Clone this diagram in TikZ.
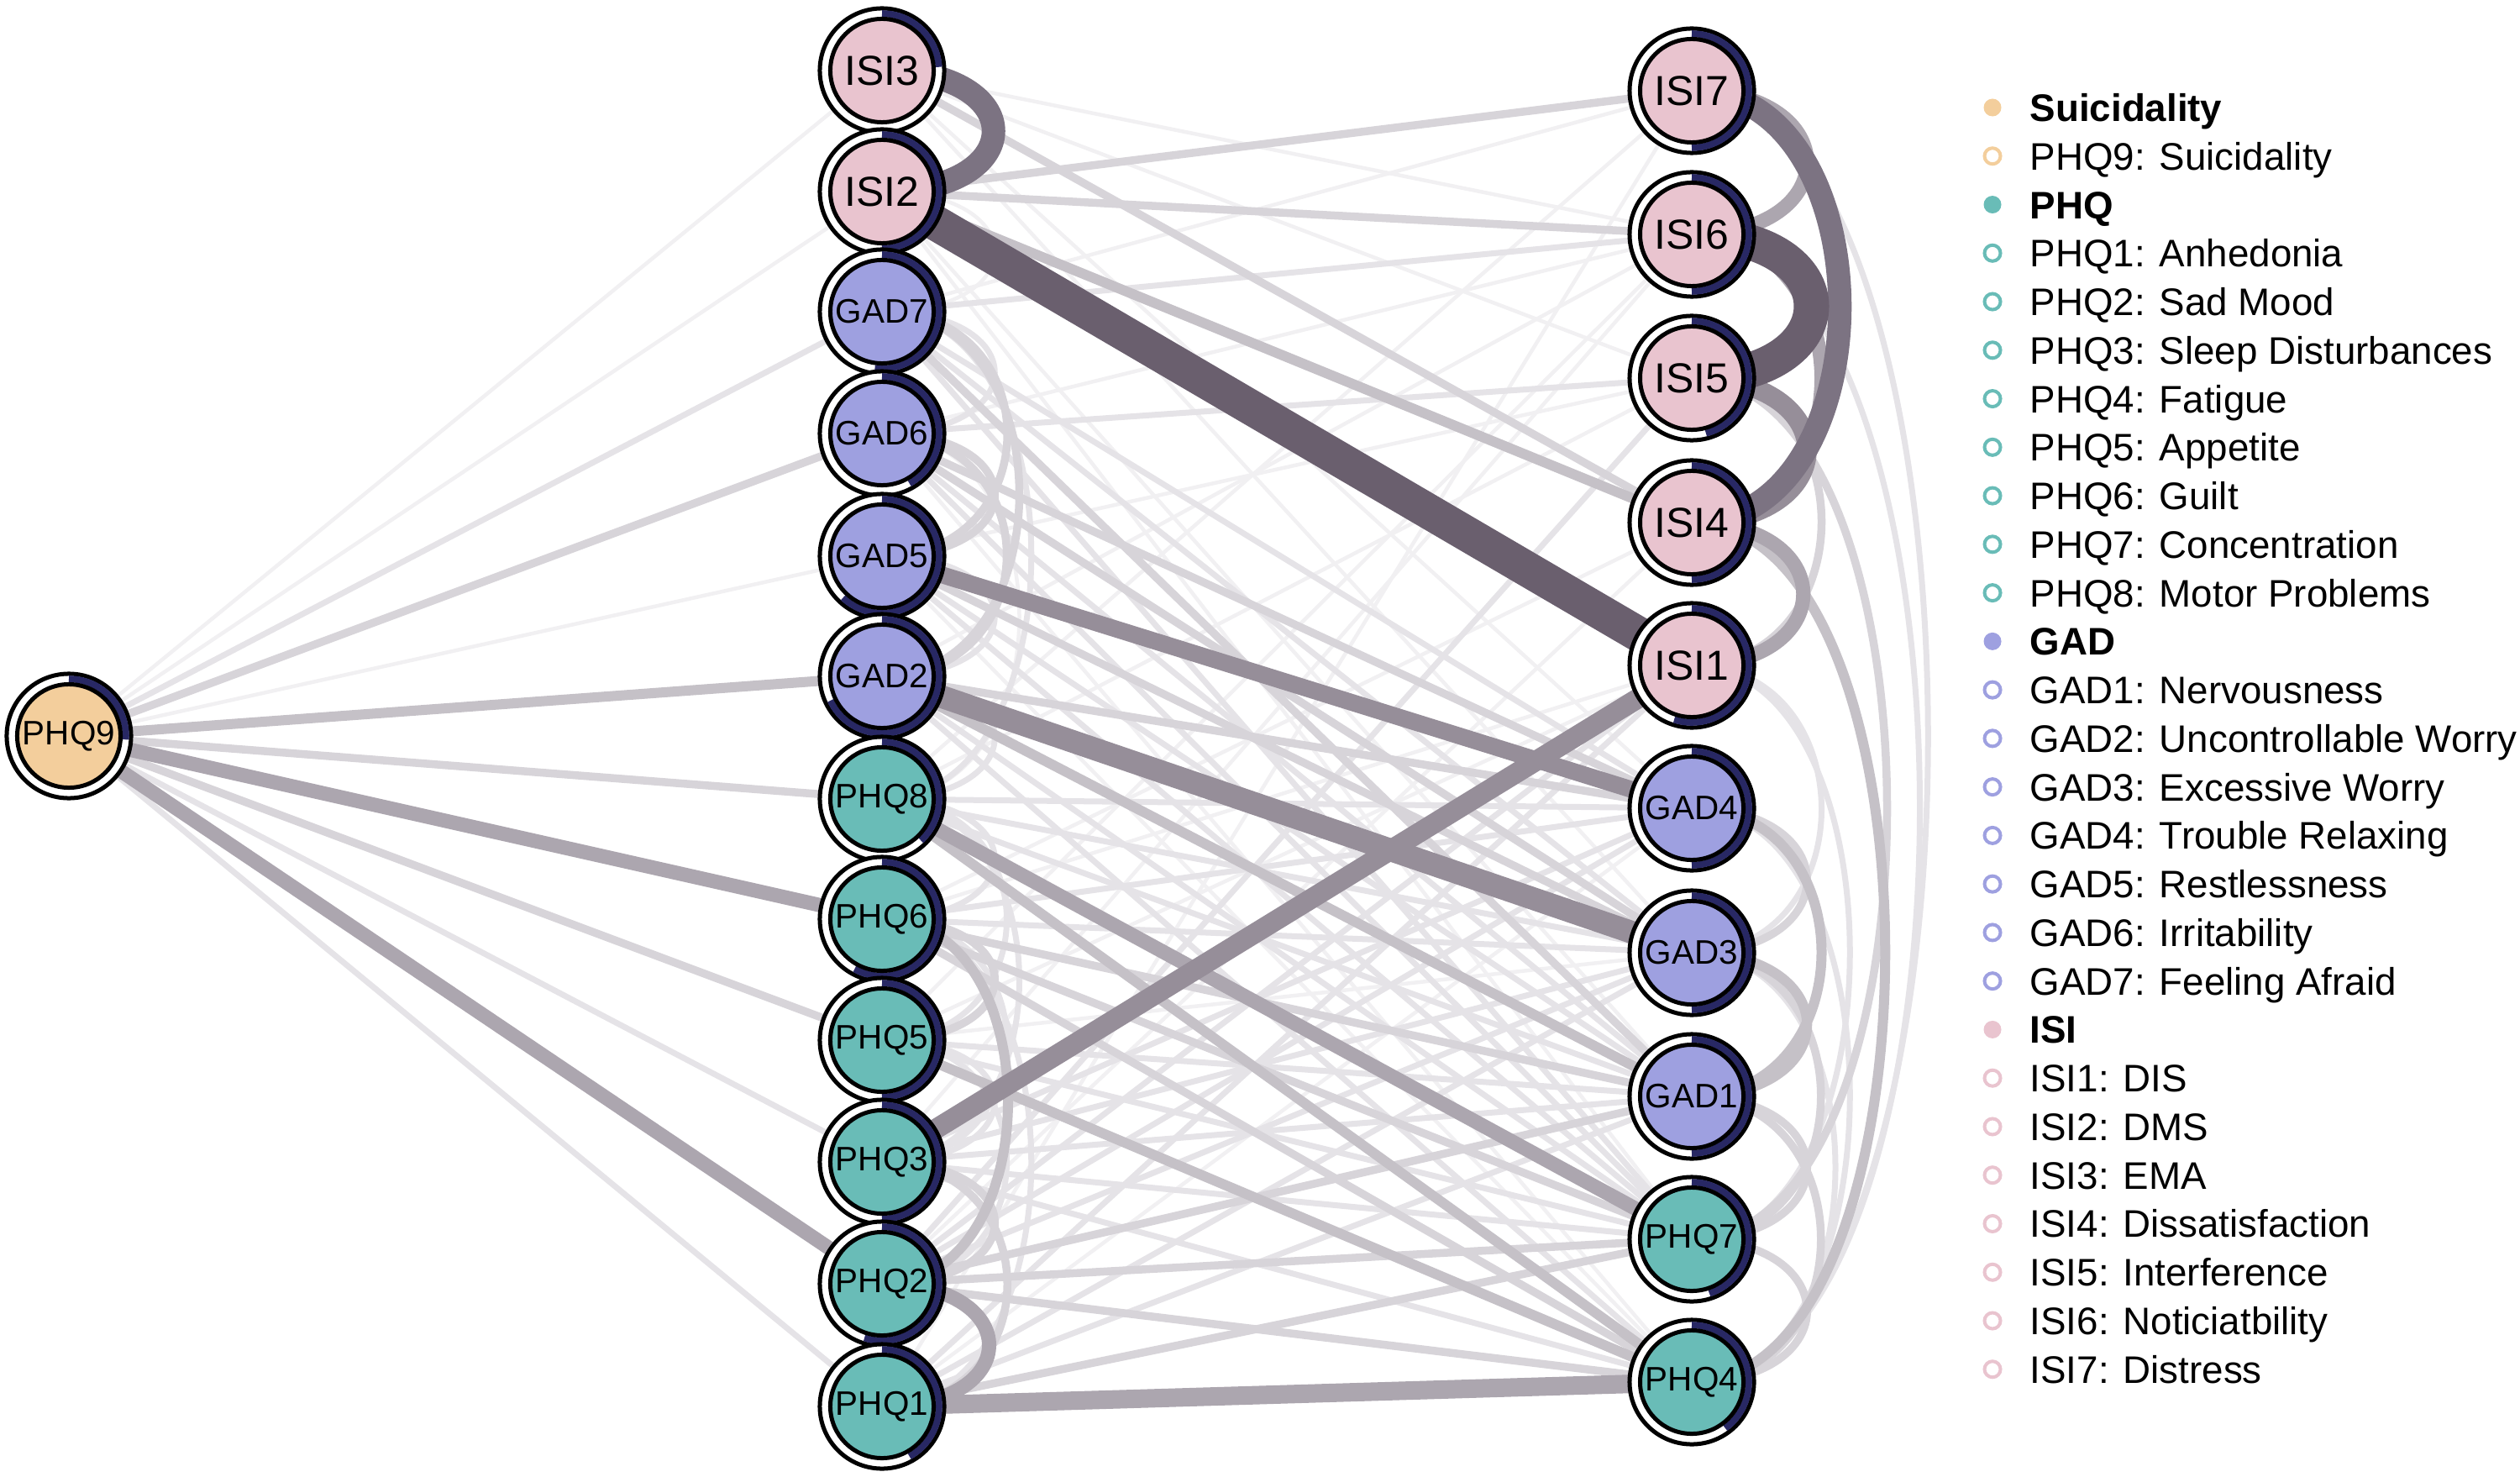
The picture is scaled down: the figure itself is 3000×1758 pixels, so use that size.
\documentclass[tikz,border=0pt]{standalone}
\usepackage{fontspec}
\setmainfont{Liberation Sans}
\pgfdeclarelayer{edgelayer}
\pgfsetlayers{edgelayer,main}
\definecolor{cSui}{HTML}{F3CE9C}
\definecolor{cISI}{HTML}{E9C4CF}
\definecolor{cGAD}{HTML}{9EA0E0}
\definecolor{cPHQ}{HTML}{69BCB7}
\definecolor{pienavy}{HTML}{282864}
\definecolor{ca}{HTML}{F1F0F2}
\definecolor{cb}{HTML}{E5E3E7}
\definecolor{cc}{HTML}{D7D4D9}
\definecolor{cd}{HTML}{C5C1C7}
\definecolor{ce}{HTML}{ACA6AF}
\definecolor{cf}{HTML}{968E99}
\definecolor{cg}{HTML}{7C7382}
\definecolor{ch}{HTML}{6A5F6E}
\newcommand{\qn}[6]{%
  \fill[white] (#2) circle[radius=0.74cm];
  \draw[line width=0.05cm] (#2) circle[radius=0.74cm];
  \draw[pienavy, line width=0.08cm] (#2) ++(90:0.6775cm) arc[start angle=90, delta angle=-360*#4, radius=0.6775cm];
  \node[circle, draw=black, line width=0.05cm, fill=#3, minimum size=1.23cm, inner sep=0pt, font=#5] (#1) at (#2) {#6};
}
\newcommand{\se}[3]{\draw[#1] (#2.center) -- (#3.center);}
\newcommand{\ce}[4]{\draw[#1] (#2.center) .. controls +(#4,0) and +(#4,0) .. (#3.center);}
\newcommand{\lgdot}[3]{%
  \ifx#2f\fill[#3] (2372,{128+57.76*#1}) circle[radius=0.105cm];%
  \else\draw[#3, line width=0.04cm] (2372,{128+57.76*#1}) circle[radius=0.095cm];\fi
}
\newcommand{\lgtext}[2]{\node[anchor=base west, inner sep=0pt, font=\fontsize{13pt}{15pt}\selectfont] (leg#1) at (2416,{128+57.76*#1+16.5}) {#2};}
\begin{document}
\begin{tikzpicture}[x=0.01cm,y=-0.01cm,
  line cap=butt,
  ea/.style={ca, line width=0.045cm},
  eb/.style={cb, line width=0.07cm},
  ec/.style={cc, line width=0.095cm},
  ed/.style={cd, line width=0.12cm},
  ee/.style={ce, line width=0.17cm},
  ef/.style={cf, line width=0.23cm},
  eg/.style={cg, line width=0.28cm},
  eh/.style={ch, line width=0.42cm}]
\useasboundingbox (0,0) rectangle (3000,1758);
\def\fI{\fontsize{14.2pt}{16pt}\selectfont}
\def\fL{\fontsize{11.5pt}{13pt}\selectfont}
% nodes
\qn{P9}{82,876}{cSui}{0.26}{\fL}{PHQ9}
\qn{I3}{1050,84}{cISI}{0.24}{\fI}{ISI3}
\qn{I2}{1050,228}{cISI}{0.5}{\fI}{ISI2}
\qn{G7}{1050,371}{cGAD}{0.52}{\fL}{GAD7}
\qn{G6}{1050,516}{cGAD}{0.42}{\fL}{GAD6}
\qn{G5}{1050,662}{cGAD}{0.62}{\fL}{GAD5}
\qn{G2}{1050,805}{cGAD}{0.68}{\fL}{GAD2}
\qn{P8}{1050,951}{cPHQ}{0.38}{\fL}{PHQ8}
\qn{P6}{1050,1094}{cPHQ}{0.58}{\fL}{PHQ6}
\qn{P5}{1050,1238}{cPHQ}{0.5}{\fL}{PHQ5}
\qn{P3}{1050,1383}{cPHQ}{0.5}{\fL}{PHQ3}
\qn{P2}{1050,1528}{cPHQ}{0.55}{\fL}{PHQ2}
\qn{P1}{1050,1674}{cPHQ}{0.42}{\fL}{PHQ1}
\qn{I7}{2014,108}{cISI}{0.5}{\fI}{ISI7}
\qn{I6}{2014,279}{cISI}{0.5}{\fI}{ISI6}
\qn{I5}{2014,450}{cISI}{0.46}{\fI}{ISI5}
\qn{I4}{2014,622}{cISI}{0.5}{\fI}{ISI4}
\qn{I1}{2014,792}{cISI}{0.55}{\fI}{ISI1}
\qn{G4}{2014,962}{cGAD}{0.5}{\fL}{GAD4}
\qn{G3}{2014,1134}{cGAD}{0.5}{\fL}{GAD3}
\qn{G1}{2014,1305}{cGAD}{0.5}{\fL}{GAD1}
\qn{P7}{2014,1475}{cPHQ}{0.45}{\fL}{PHQ7}
\qn{P4}{2014,1645}{cPHQ}{0.4}{\fL}{PHQ4}
% edges
\begin{pgfonlayer}{edgelayer}
% faintest
\se{ea}{P9}{I3}\se{ea}{P9}{I2}\se{ea}{P9}{G5}
\se{ea}{I3}{I6}\se{ea}{I3}{I5}\se{ea}{G7}{I7}\se{ea}{G6}{I6}\se{ea}{G5}{I5}
\se{ea}{G2}{I6}\se{ea}{P8}{I5}\se{ea}{P6}{I4}\se{ea}{P3}{I6}\se{ea}{P1}{I7}
\se{ea}{P2}{I4}\se{ea}{P5}{I1}\se{ea}{P6}{I1}\se{ea}{I3}{G4}\se{ea}{I3}{G3}
\se{ea}{I2}{G1}\se{ea}{I2}{P7}\se{ea}{G6}{P4}\se{ea}{G5}{P4}\se{ea}{P5}{G3}
\se{ea}{P1}{G4}\se{ea}{P5}{I6}\se{ea}{P8}{I7}
\ce{ea}{G6}{P8}{218}\ce{ea}{I2}{G7}{179}
% faint
\se{eb}{P9}{G7}\se{eb}{P9}{P3}\se{eb}{P9}{P1}
\se{eb}{G7}{I6}\se{eb}{G6}{I5}\se{eb}{P2}{I5}\se{eb}{P1}{I1}\se{eb}{P2}{I1}
\se{eb}{G7}{G4}\se{eb}{G7}{G3}\se{eb}{G7}{P7}\se{eb}{G6}{G1}\se{eb}{G6}{P7}
\se{eb}{G5}{G1}\se{eb}{G5}{P7}\se{eb}{G2}{P7}\se{eb}{G2}{P4}
\se{eb}{P8}{G4}\se{eb}{P8}{G3}\se{eb}{P8}{G1}\se{eb}{P6}{G4}\se{eb}{P6}{G3}
\se{eb}{P5}{G1}\se{eb}{P5}{P7}\se{eb}{P3}{G4}\se{eb}{P3}{G3}\se{eb}{P3}{G1}
\se{eb}{P3}{P7}\se{eb}{P3}{P4}\se{eb}{P2}{G4}\se{eb}{P2}{G3}\se{eb}{P1}{G3}\se{eb}{P1}{G1}
\ce{eb}{G7}{G6}{179}\ce{eb}{G5}{G2}{179}\ce{eb}{G2}{P8}{179}\ce{eb}{P8}{P6}{179}
\ce{eb}{P8}{P5}{198}\ce{eb}{P8}{P3}{218}\ce{eb}{P6}{P3}{198}\ce{eb}{P5}{P3}{179}
\ce{eb}{P5}{P2}{198}\ce{eb}{P6}{P1}{237}\ce{eb}{G7}{P8}{237}
\ce{eb}{I7}{P4}{375}\ce{eb}{I6}{P4}{362}\ce{eb}{I1}{G3}{206}\ce{eb}{I1}{P7}{251}
\ce{eb}{G4}{P4}{251}\ce{eb}{G3}{P4}{228}
% light
\se{ec}{P9}{G6}\se{ec}{P9}{P8}\se{ec}{P9}{P5}
\se{ec}{I3}{I4}\se{ec}{I2}{I7}\se{ec}{I2}{I6}
\se{ec}{G7}{G1}\se{ec}{G6}{G4}\se{ec}{G6}{G3}\se{ec}{G5}{G3}\se{ec}{G2}{G4}
\se{ec}{P6}{G1}\se{ec}{P6}{P7}\se{ec}{P6}{P4}\se{ec}{P2}{G1}\se{ec}{P2}{P7}
\se{ec}{P2}{P4}\se{ec}{P1}{P7}
\ce{ec}{G7}{G5}{199}\ce{ec}{G7}{G2}{218}\ce{ec}{G6}{G5}{179}\ce{ec}{G6}{G2}{198}
\ce{ec}{P6}{P5}{179}\ce{ec}{P3}{P2}{179}\ce{ec}{P3}{P1}{199}
\ce{ec}{I5}{I1}{206}\ce{ec}{I5}{P7}{310}\ce{ec}{G4}{G3}{183}\ce{ec}{G3}{P7}{205}
\ce{ec}{G1}{P7}{183}\ce{ec}{G1}{P4}{205}\ce{ec}{P7}{P4}{183}
% light-medium
\se{ed}{P9}{G2}\se{ed}{I2}{I4}\se{ed}{G2}{G1}\se{ed}{P8}{P4}\se{ed}{P5}{P4}
\ce{ed}{P6}{P2}{200}\ce{ed}{I4}{P4}{307}\ce{ed}{G4}{G1}{206}\ce{ed}{G3}{G1}{183}
% medium
\se{ee}{P9}{P6}\se{ee}{P9}{P2}\se{ee}{P8}{P7}
\draw[ce, line width=0.22cm] (P1.center) -- (P4.center);
\ce{ee}{P2}{P1}{170}\ce{ee}{I4}{I1}{177}\ce{ee}{I6}{I4}{206}\ce{ee}{I7}{I6}{183}
% strong
\draw[cf, line width=0.2cm] (G5.center) -- (G4.center);
\draw[cf, line width=0.24cm] (P3.center) -- (I1.center);
\draw[cf, line width=0.27cm] (G2.center) -- (G3.center);
\ce{ef}{I5}{I4}{183}
\ce{eg}{I3}{I2}{177}\ce{eg}{I7}{I4}{235}
\ce{eh}{I6}{I5}{190}
\se{eh}{I2}{I1}
\end{pgfonlayer}
% legend
\lgdot{0}{f}{cSui}\lgtext{0}{\textbf{Suicidality}}
\lgdot{1}{o}{cSui}\lgtext{1}{PHQ9: Suicidality}
\lgdot{2}{f}{cPHQ}\lgtext{2}{\textbf{PHQ}}
\lgdot{3}{o}{cPHQ}\lgtext{3}{PHQ1: Anhedonia}
\lgdot{4}{o}{cPHQ}\lgtext{4}{PHQ2: Sad Mood}
\lgdot{5}{o}{cPHQ}\lgtext{5}{PHQ3: Sleep Disturbances}
\lgdot{6}{o}{cPHQ}\lgtext{6}{PHQ4: Fatigue}
\lgdot{7}{o}{cPHQ}\lgtext{7}{PHQ5: Appetite}
\lgdot{8}{o}{cPHQ}\lgtext{8}{PHQ6: Guilt}
\lgdot{9}{o}{cPHQ}\lgtext{9}{PHQ7: Concentration}
\lgdot{10}{o}{cPHQ}\lgtext{10}{PHQ8: Motor Problems}
\lgdot{11}{f}{cGAD}\lgtext{11}{\textbf{GAD}}
\lgdot{12}{o}{cGAD}\lgtext{12}{GAD1: Nervousness}
\lgdot{13}{o}{cGAD}\lgtext{13}{GAD2: Uncontrollable Worry}
\lgdot{14}{o}{cGAD}\lgtext{14}{GAD3: Excessive Worry}
\lgdot{15}{o}{cGAD}\lgtext{15}{GAD4: Trouble Relaxing}
\lgdot{16}{o}{cGAD}\lgtext{16}{GAD5: Restlessness}
\lgdot{17}{o}{cGAD}\lgtext{17}{GAD6: Irritability}
\lgdot{18}{o}{cGAD}\lgtext{18}{GAD7: Feeling Afraid}
\lgdot{19}{f}{cISI}\lgtext{19}{\textbf{ISI}}
\lgdot{20}{o}{cISI}\lgtext{20}{ISI1: DIS}
\lgdot{21}{o}{cISI}\lgtext{21}{ISI2: DMS}
\lgdot{22}{o}{cISI}\lgtext{22}{ISI3: EMA}
\lgdot{23}{o}{cISI}\lgtext{23}{ISI4: Dissatisfaction}
\lgdot{24}{o}{cISI}\lgtext{24}{ISI5: Interference}
\lgdot{25}{o}{cISI}\lgtext{25}{ISI6: Noticiatbility}
\lgdot{26}{o}{cISI}\lgtext{26}{ISI7: Distress}
\end{tikzpicture}
\end{document}
